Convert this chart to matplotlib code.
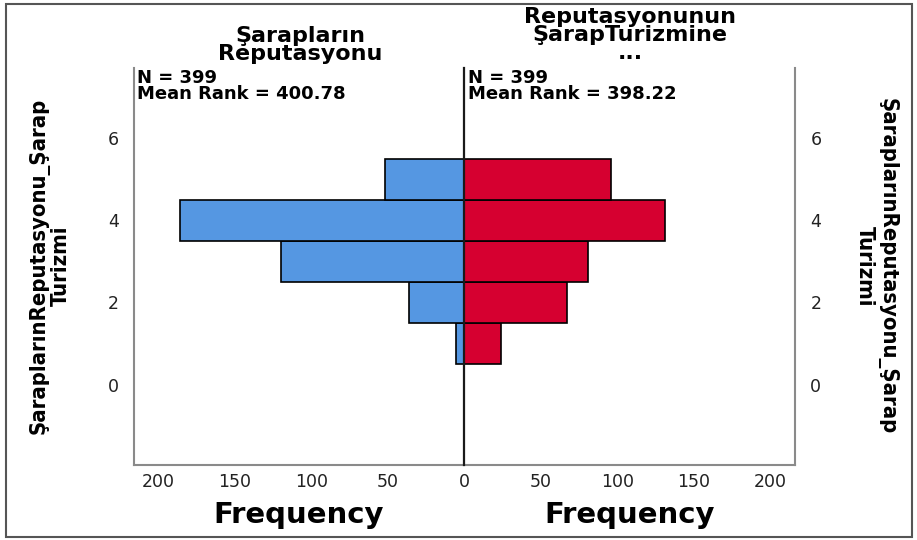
import numpy as np
import matplotlib.pyplot as plt
from matplotlib.patches import Rectangle
from matplotlib import font_manager as fm

# frekanslar (her puan icin)
scores = [1, 2, 3, 4, 5]
left_counts = [5, 36, 120, 186, 52]
right_counts = [24, 67, 81, 131, 96]

left_title = "Şarapların\nReputasyonu"
right_title = "Reputasyonunun\nŞarapTurizmine\n..."
left_stats = "N = 399\nMean Rank = 400.78"
right_stats = "N = 399\nMean Rank = 398.22"
ylabel = "ŞaraplarınReputasyonu_Şarap\nTurizmi"
xticks_left = [50, 100, 150, 200]
xticks_right = [0, 50, 100, 150, 200]

blue = '#5597e2'
red = '#d60030'
grey = '#8a8a8a'

fig = plt.figure(figsize=(9.17, 5.40), dpi=100)
W, H = 917, 540

def px(x0, y0, x1, y1):
    return [x0 / W, 1 - y1 / H, (x1 - x0) / W, (y1 - y0) / H]

axl = fig.add_axes(px(134, 68, 464, 465))
axr = fig.add_axes(px(464, 68, 795, 465))
axr.patch.set_visible(False)

axl.barh(scores, left_counts, height=1.0, color=blue, edgecolor='black', linewidth=1.2, zorder=2)
axr.barh(scores, right_counts, height=1.0, color=red, edgecolor='black', linewidth=1.2, zorder=2)

axl.set_xlim(216, 0)
axr.set_xlim(0, 216)
axl.set_xticks(xticks_left)
axr.set_xticks(xticks_right)
for ax in (axl, axr):
    ax.set_ylim(-1.95, 7.7)
    ax.set_yticks([0, 2, 4, 6])
    ax.tick_params(length=0, labelsize=12.5, colors='#222222', pad=6)
    ax.spines['top'].set_visible(False)
    ax.spines['bottom'].set_color(grey)
    ax.spines['bottom'].set_linewidth(1.5)
    ax.set_xlabel('Frequency', fontsize=21, fontweight='bold', labelpad=7)

axl.spines['left'].set_color(grey)
axl.spines['left'].set_linewidth(1.5)
axl.spines['right'].set_visible(False)
# orta cizgi
axr.spines['left'].set_color('#1a1a1a')
axr.spines['left'].set_linewidth(1.6)
axr.spines['left'].set_zorder(3)
axr.spines['right'].set_color(grey)
axr.spines['right'].set_linewidth(1.5)
axr.yaxis.tick_right()
axl.tick_params(axis='y', pad=11)
axr.tick_params(axis='y', pad=11)

axl.text(0.01, 0.997, left_stats, transform=axl.transAxes, ha='left', va='top',
         fontsize=13, fontweight='bold', linespacing=0.85)
axr.text(0.012, 0.997, right_stats, transform=axr.transAxes, ha='left', va='top',
         fontsize=13, fontweight='bold', linespacing=0.85)

fig.text(300 / W, 1 - 64 / H, left_title, ha='center', va='bottom',
         fontsize=16, fontweight='bold', linespacing=0.9)
fig.text(630 / W, 1 - 63 / H, right_title, ha='center', va='bottom',
         fontsize=16, fontweight='bold', linespacing=0.88)

# dar (condensed) kalin bir font bul, yoksa Liberation Sans
def narrow_bold():
    for f in fm.fontManager.ttflist:
        w = f.weight if isinstance(f.weight, int) else (700 if 'bold' in str(f.weight) else 400)
        narrow = 'condensed' in str(f.stretch) or 'Narrow' in f.name or 'Condensed' in f.name
        if narrow and w >= 600 and 'Mono' not in f.name and 'Italic' not in f.fname \
                and 'Oblique' not in f.fname:
            return fm.FontProperties(fname=f.fname)
    return fm.FontProperties(family=['Liberation Sans', 'DejaVu Sans'], weight='bold')

yprop = narrow_bold()
yl = fig.text(50 / W, 1 - 266 / H, ylabel, rotation=90, ha='center', va='center',
              fontproperties=yprop, linespacing=1.1)
yr = fig.text(876 / W, 1 - 266 / H, ylabel, rotation=270, ha='center', va='center',
              fontproperties=yprop, linespacing=1.1)

# uzunlugu ~338 px olacak sekilde boyutu ayarla
size = 20
for t in (yl, yr):
    t.set_fontsize(size)
r = fig.canvas.get_renderer()
h = yl.get_window_extent(r).height
size = size * 338 / h
for t in (yl, yr):
    t.set_fontsize(size)

# cerceve
fig.patches.append(Rectangle((6 / W, 3 / H), 906 / W, 533 / H, transform=fig.transFigure,
                             fill=False, edgecolor='#555555', linewidth=1.5))

fig.savefig('out.png', dpi=100)
